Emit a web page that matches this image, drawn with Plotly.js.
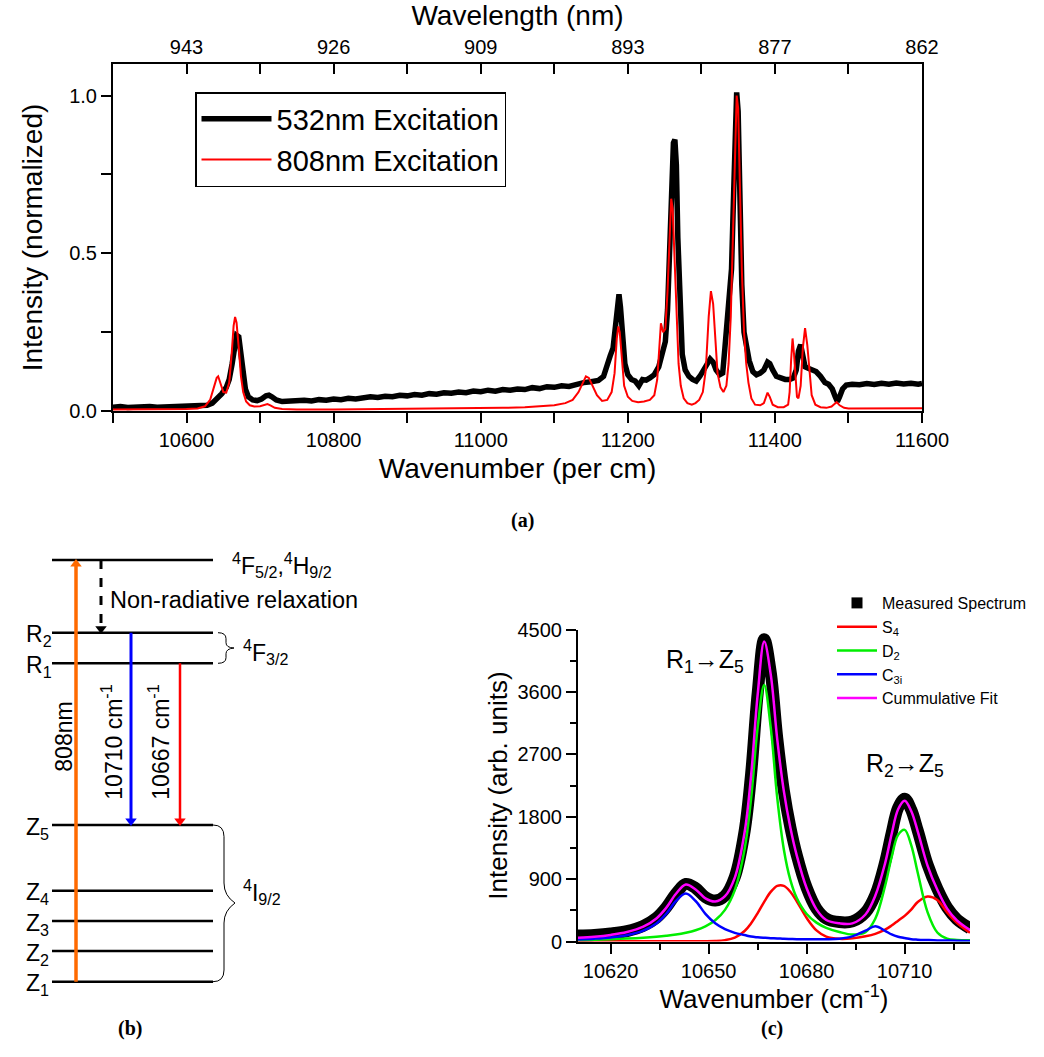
<!DOCTYPE html>
<html>
<head>
<meta charset="utf-8">
<script src="https://cdn.plot.ly/plotly-3.0.1.min.js"></script>
<style>html,body{margin:0;padding:0;background:#fff}#chart{width:1044px;height:1057px}</style>
</head>
<body>
<div id="chart"></div>
<script>
// ---------- Panel (a): normalized emission spectra ----------
const wn532 = [
 10500,10510,10520,10530,10540,10550,10560,10570,10580,10590,
 10600,10610,10620,10628,10635,10642,10648,10654,10658,10662,
 10665,10668,10671,10674,10677,10680,10684,10690,10696,10702,
 10708,10712,10716,10722,10730,10740,10750,10760,10770,10780,
 10790,10800,10810,10820,10830,10840,10850,10860,10870,10880,
 10890,10900,10910,10920,10930,10940,10950,10960,10970,10980,
 10990,11000,11010,11020,11030,11040,11050,11060,11070,11080,
 11090,11100,11110,11120,11130,11140,11150,11160,11167,11172,
 11176,11180,11183,11186,11188,11190,11193,11196,11200,11205,
 11210,11215,11220,11225,11230,11236,11242,11247,11251,11254,
 11257,11260,11262,11264,11266,11268,11271,11274,11278,11283,
 11288,11293,11298,11303,11308,11312,11316,11320,11325,11329,
 11332,11335,11338,11341,11344,11346,11348,11350,11352,11355,
 11358,11361,11365,11370,11375,11380,11385,11390,11393,11397,
 11402,11408,11414,11420,11425,11429,11432,11435,11438,11441,
 11446,11451,11456,11462,11468,11473,11478,11482,11485,11488,
 11492,11497,11505,11515,11525,11535,11545,11555,11565,11575,
 11585,11595,11600];
const int532 = [
 0.012,0.014,0.011,0.013,0.012,0.014,0.012,0.013,0.012,0.014,
 0.013,0.014,0.015,0.018,0.025,0.040,0.055,0.075,0.100,0.150,
 0.200,0.240,0.235,0.180,0.110,0.070,0.045,0.035,0.033,0.038,
 0.048,0.050,0.045,0.035,0.030,0.032,0.030,0.034,0.032,0.036,
 0.034,0.038,0.036,0.040,0.038,0.042,0.045,0.043,0.047,0.045,
 0.050,0.048,0.052,0.050,0.055,0.053,0.058,0.056,0.060,0.058,
 0.063,0.061,0.066,0.063,0.068,0.066,0.070,0.068,0.074,0.071,
 0.077,0.075,0.080,0.078,0.085,0.090,0.093,0.097,0.110,0.140,
 0.175,0.200,0.270,0.360,0.370,0.330,0.220,0.150,0.115,0.100,
 0.095,0.080,0.100,0.098,0.105,0.115,0.140,0.180,0.220,0.320,
 0.500,0.750,0.850,0.860,0.780,0.550,0.300,0.180,0.130,0.110,
 0.100,0.095,0.110,0.130,0.150,0.165,0.155,0.130,0.115,0.120,
 0.200,0.300,0.340,0.450,0.700,0.920,1.010,0.950,0.700,0.400,
 0.250,0.200,0.160,0.125,0.115,0.120,0.130,0.155,0.150,0.130,
 0.110,0.105,0.100,0.100,0.105,0.130,0.190,0.210,0.170,0.140,
 0.135,0.130,0.125,0.110,0.090,0.085,0.070,0.045,0.030,0.045,
 0.070,0.082,0.085,0.083,0.087,0.084,0.088,0.085,0.089,0.086,
 0.088,0.085,0.087];

const wn808 = [
 10500,10550,10600,10615,10625,10632,10637,10641,10643,10646,
 10650,10654,10658,10661,10664,10666,10668,10671,10674,10677,
 10681,10686,10692,10700,10706,10710,10714,10720,10730,10750,
 10800,10850,10900,10950,11000,11030,11060,11080,11100,11115,
 11125,11133,11139,11143,11147,11152,11158,11165,11172,11178,
 11182,11185,11187,11189,11192,11195,11200,11206,11214,11222,
 11230,11236,11240,11243,11245,11248,11251,11254,11257,11259,
 11261,11263,11266,11269,11272,11276,11281,11287,11292,11297,
 11302,11306,11310,11313,11316,11319,11322,11326,11330,11334,
 11337,11340,11343,11346,11348,11350,11352,11355,11358,11361,
 11364,11368,11373,11380,11385,11388,11390,11393,11397,11404,
 11412,11418,11420,11422,11424,11426,11428,11430,11432,11435,
 11438,11441,11444,11447,11450,11455,11462,11470,11477,11481,
 11484,11488,11494,11500,11550,11600];
const int808 = [
 0.005,0.005,0.006,0.008,0.015,0.035,0.070,0.105,0.110,0.090,
 0.060,0.058,0.090,0.170,0.270,0.298,0.280,0.200,0.110,0.060,
 0.030,0.018,0.014,0.015,0.020,0.022,0.018,0.010,0.006,0.005,
 0.005,0.006,0.006,0.007,0.008,0.010,0.012,0.014,0.018,0.025,
 0.035,0.060,0.090,0.110,0.105,0.080,0.050,0.032,0.035,0.060,
 0.120,0.230,0.268,0.250,0.160,0.080,0.045,0.032,0.028,0.030,
 0.035,0.050,0.100,0.200,0.278,0.250,0.260,0.380,0.560,0.673,
 0.640,0.500,0.300,0.150,0.080,0.040,0.025,0.020,0.025,0.035,
 0.060,0.130,0.300,0.380,0.340,0.220,0.120,0.075,0.060,0.080,
 0.150,0.300,0.550,0.850,1.000,0.960,0.750,0.450,0.250,0.150,
 0.090,0.040,0.020,0.018,0.025,0.050,0.058,0.045,0.020,0.012,
 0.012,0.020,0.060,0.160,0.230,0.180,0.090,0.045,0.040,0.080,
 0.200,0.263,0.210,0.120,0.050,0.020,0.012,0.010,0.014,0.022,
 0.028,0.018,0.010,0.008,0.008,0.009];

const bottomTickWavenumbers = [10600, 10800, 11000, 11200, 11400, 11600];
const topTickWavenumbers = [10600, 10800, 11000, 11200, 11400, 11600];
const topTickWavelengths = ['943', '926', '909', '893', '877', '862'];
const seriesNamesA = ['532nm Excitation', '808nm Excitation'];

// ---------- Panel (c): peak fit of R1/R2 -> Z5 ----------
const fitWavenumber = [10610,10615,10620,10625,10630,10634,10637,10640,10643,10646,
 10649,10652,10655,10658,10661,10663,10665,10667,10669,10671,
 10673,10675,10677,10680,10683,10686,10690,10694,10698,10701,
 10704,10706,10708,10710,10712,10714,10717,10720,10723,10726,10730];
const measured = [85,95,115,150,225,340,490,690,830,770,
 640,590,660,930,1590,2420,3580,4360,3880,2930,
 2180,1650,1240,775,475,330,280,290,420,670,
 1140,1560,1930,2060,1900,1600,1110,760,490,320,190];
const s4 = [2,2,2,3,3,3,4,4,4,5,
 5,8,20,56,152,263,409,572,715,801,
 802,718,577,339,160,70,38,45,75,110,
 170,230,300,370,460,570,650,600,420,270,125];
const d2 = [23,27,34,42,54,68,82,100,126,162,
 218,306,456,740,1331,2067,3089,3700,3089,2067,
 1331,889,623,396,272,197,137,100,136,329,
 803,1215,1538,1610,1389,992,424,130,41,23,19];
const c3i = [30,41,59,91,156,261,399,584,691,584,
 399,262,177,125,93,71,61,54,48,45,
 39,36,34,32,32,33,41,74,156,220,
 154,102,69,49,33,27,21,16,14,12,9];
const cumulative = [55,70,95,136,213,332,485,688,821,751,
 622,576,653,921,1576,2401,3559,4326,3852,2913,
 2172,1643,1234,767,464,310,262,262,390,659,
 1127,1547,1907,2029,1882,1589,1095,746,475,305,165];
const fitNames = ['Measured Spectrum', 'S<sub>4</sub>', 'D<sub>2</sub>', 'C<sub>3i</sub>', 'Cummulative Fit'];
const peakLabels = ['R<sub>1</sub>\u2192Z<sub>5</sub>', 'R<sub>2</sub>\u2192Z<sub>5</sub>'];
const peakLabelWavenumber = [10649, 10710];
const peakLabelIntensity = [4050, 2540];

// ---------- Panel (b): energy level scheme (schematic heights) ----------
const levelNames = ['Z1','Z2','Z3','Z4','Z5','R1','R2','F52'];
const levelEnergy = [0, 30.7, 60.7, 91, 156.7, 318.4, 349, 421.7];
const levelTexts = ['Z<sub>1</sub>','Z<sub>2</sub>','Z<sub>3</sub>','Z<sub>4</sub>','Z<sub>5</sub>','R<sub>1</sub>','R<sub>2</sub>',''];
const transFrom = ['Z1','F52','R2','R1'];
const transTo = ['F52','R2','Z5','Z5'];
const transTexts = ['808nm','Non-radiative relaxation','10710 cm<sup>-1</sup>','10667 cm<sup>-1</sup>'];
const manifoldTexts = ['<sup>4</sup>F<sub>5/2</sub>,<sup>4</sup>H<sub>9/2</sub>','<sup>4</sup>F<sub>3/2</sub>','<sup>4</sup>I<sub>9/2</sub>'];

// ================= build =================
const FONT = 'Liberation Sans, Arial, Helvetica, sans-serif';
const SERIF = 'Liberation Serif, Times New Roman, serif';
const W = 1044, H = 1057;
const px = v => v / W;
const py = v => 1 - v / H;
const E = name => levelEnergy[levelNames.indexOf(name)];

const traces = [];
// panel (a)
traces.push({x: wn532, y: int532, type: 'scatter', mode: 'lines', name: seriesNamesA[0],
  line: {color: '#000000', width: 5.5}, xaxis: 'x', yaxis: 'y', legend: 'legend', hoverinfo: 'skip'});
traces.push({x: wn808, y: int808, type: 'scatter', mode: 'lines', name: seriesNamesA[1],
  line: {color: '#ff0000', width: 2}, xaxis: 'x', yaxis: 'y', legend: 'legend', hoverinfo: 'skip'});
traces.push({x: [], y: [], type: 'scatter', mode: 'lines', xaxis: 'x2', yaxis: 'y', showlegend: false, hoverinfo: 'skip'});

// panel (c)
traces.push({x: fitWavenumber, y: measured, type: 'scatter', mode: 'lines', line: {color: '#000', width: 12, shape: 'spline'},
  xaxis: 'x3', yaxis: 'y3', showlegend: false, hoverinfo: 'skip'});
traces.push({x: [null], y: [null], type: 'scatter', mode: 'markers', name: fitNames[0],
  marker: {symbol: 'square', size: 11, color: '#000'}, xaxis: 'x3', yaxis: 'y3', legend: 'legend2', legendgroup: 'g0'});
const compColors = ['#ff0000', '#00ee00', '#0000ff', '#ff00ff'];
[s4, d2, c3i, cumulative].forEach((arr, i) => {
  traces.push({x: fitWavenumber, y: arr, type: 'scatter', mode: 'lines', name: fitNames[i + 1],
    line: {color: compColors[i], width: 2.5, shape: 'spline'}, xaxis: 'x3', yaxis: 'y3',
    legend: 'legend2', legendgroup: 'g' + (i + 1), hoverinfo: 'skip'});
});

// panel (b) levels
levelNames.forEach((n, i) => {
  traces.push({x: [52, 213], y: [levelEnergy[i], levelEnergy[i]], type: 'scatter', mode: 'lines',
    line: {color: '#000', width: 2.5}, xaxis: 'x4', yaxis: 'y4', showlegend: false, hoverinfo: 'skip'});
});
// transitions
const transX = [76, 101, 131, 180];
const transColor = ['#ff6a00', '#000000', '#0000ff', '#ff0000'];
const transDash = ['solid', 'dash', 'solid', 'solid'];
const transWidth = [3.5, 3, 3, 2.5];
transFrom.forEach((f, i) => {
  const y0 = E(f), y1 = E(transTo[i]);
  const up = y1 > y0;
  const headY = up ? y1 - 4 : y1 + 4;
  traces.push({x: [transX[i], transX[i]], y: [y0, headY], type: 'scatter', mode: 'lines',
    line: {color: transColor[i], width: transWidth[i], dash: transDash[i]}, xaxis: 'x4', yaxis: 'y4', showlegend: false, hoverinfo: 'skip'});
  traces.push({x: [transX[i]], y: [headY], type: 'scatter', mode: 'markers',
    marker: {symbol: up ? 'triangle-up' : 'triangle-down', size: 10, color: transColor[i]},
    xaxis: 'x4', yaxis: 'y4', showlegend: false, hoverinfo: 'skip'});
});

const annotations = [];
// panel labels
[['(a)', 522, 520], ['(b)', 130, 1028], ['(c)', 772, 1028]].forEach(([t, x, y]) => {
  annotations.push({text: '<b>' + t + '</b>', x: px(x), y: py(y), xref: 'paper', yref: 'paper',
    xanchor: 'center', yanchor: 'middle',
    showarrow: false, font: {family: SERIF, size: 20, color: '#000'}});
});
// panel (c) peak labels
peakLabels.forEach((t, i) => {
  annotations.push({text: t, x: peakLabelWavenumber[i], y: peakLabelIntensity[i], xref: 'x3', yref: 'y3',
    showarrow: false, font: {family: FONT, size: 25, color: '#000'}});
});
// panel (b) texts
levelTexts.forEach((t, i) => {
  if (!t) return;
  annotations.push({text: t, x: 24, y: levelEnergy[i] - 3, xref: 'x4', yref: 'y4', xanchor: 'left', yanchor: 'middle',
    showarrow: false, font: {family: FONT, size: 23, color: '#000'}});
});
annotations.push({text: transTexts[0], x: 64, y: 245, xref: 'x4', yref: 'y4', textangle: -90, showarrow: false,
  font: {family: FONT, size: 23, color: '#000'}});
annotations.push({text: transTexts[1], x: 108, y: 382, xref: 'x4', yref: 'y4', xanchor: 'left', showarrow: false,
  font: {family: FONT, size: 23.5, color: '#000'}});
annotations.push({text: transTexts[2], x: 112, y: 239, xref: 'x4', yref: 'y4', textangle: -90, showarrow: false,
  font: {family: FONT, size: 23, color: '#000'}});
annotations.push({text: transTexts[3], x: 159, y: 239, xref: 'x4', yref: 'y4', textangle: -90, showarrow: false,
  font: {family: FONT, size: 23, color: '#000'}});
annotations.push({text: manifoldTexts[0], x: 230, y: 417, xref: 'x4', yref: 'y4', xanchor: 'left', showarrow: false,
  font: {family: FONT, size: 23, color: '#000'}});
annotations.push({text: manifoldTexts[1], x: 241, y: 330, xref: 'x4', yref: 'y4', xanchor: 'left', showarrow: false,
  font: {family: FONT, size: 23, color: '#000'}});
annotations.push({text: manifoldTexts[2], x: 241, y: 90, xref: 'x4', yref: 'y4', xanchor: 'left', showarrow: false,
  font: {family: FONT, size: 23, color: '#000'}});

// braces (panel b)
const shapes = [
  {type: 'path', xref: 'x4', yref: 'y4', line: {color: '#000', width: 1},
   path: 'M 213,156.7 Q 224,156.7 224,145 L 224,98.7 Q 224,86 235,78.7 Q 224,71 224,58.7 L 224,11.7 Q 224,0 213,0'},
  {type: 'path', xref: 'x4', yref: 'y4', line: {color: '#000', width: 1},
   path: 'M 218,349 Q 226,349 226,343 L 226,339 Q 226,334 234,333.7 Q 226,333 226,328 L 226,324 Q 226,318.4 218,318.4'}
];

const axisCommon = {showline: true, linecolor: '#000', linewidth: 2, tickcolor: '#000', tickwidth: 2,
  showgrid: false, zeroline: false, ticklen: 10, exponentformat: 'none', separatethousands: false};

const layout = {
  width: W, height: H, margin: {l: 0, r: 0, t: 0, b: 0},
  paper_bgcolor: '#fff', plot_bgcolor: 'rgba(0,0,0,0)',
  font: {family: FONT, color: '#000'},
  showlegend: true,
  xaxis: Object.assign({}, axisCommon, {
    domain: [px(113), px(922)], anchor: 'y', range: [10500, 11600],
    tickmode: 'array', tickvals: bottomTickWavenumbers, tickformat: 'd', ticks: 'outside',
    minor: {tickmode: 'linear', tick0: 10500, dtick: 100, ticks: 'outside', ticklen: 10, tickwidth: 2, tickcolor: '#000'},
    tickfont: {size: 20}, title: {text: 'Wavenumber (per cm)', font: {size: 28}, standoff: 8}
  }),
  xaxis2: Object.assign({}, axisCommon, {
    overlaying: 'x', side: 'top', anchor: 'y', range: [10500, 11600],
    tickmode: 'array', tickvals: topTickWavenumbers, ticktext: topTickWavelengths, ticks: 'inside',
    minor: {tickmode: 'linear', tick0: 10500, dtick: 100, ticks: 'inside', ticklen: 10, tickwidth: 2, tickcolor: '#000'},
    tickfont: {size: 20}, title: {text: 'Wavelength (nm)', font: {size: 28}, standoff: 4}
  }),
  yaxis: Object.assign({}, axisCommon, {
    domain: [py(411), py(64)], anchor: 'x', range: [0, 1.1], mirror: true,
    tick0: 0, dtick: 0.5, tickformat: '.1f', ticks: 'outside',
    minor: {dtick: 0.25, ticks: 'outside', ticklen: 10, tickwidth: 2, tickcolor: '#000'},
    tickfont: {size: 20}, title: {text: 'Intensity (normalized)', font: {size: 28}, standoff: 18}
  }),
  xaxis3: Object.assign({}, axisCommon, {
    domain: [px(578), px(970)], anchor: 'y3', range: [10610, 10730],
    tick0: 10620, dtick: 30, tickformat: 'd', ticks: 'outside',
    minor: {tick0: 10620, dtick: 15, ticks: 'outside', ticklen: 6, tickwidth: 2, tickcolor: '#000'},
    tickfont: {size: 20}, title: {text: 'Wavenumber (cm<sup>-1</sup>)', font: {size: 26}, standoff: 4}
  }),
  yaxis3: Object.assign({}, axisCommon, {
    domain: [py(941.5), py(629.5)], anchor: 'x3', range: [0, 4500],
    tick0: 0, dtick: 900, tickformat: 'd', ticks: 'outside',
    minor: {tick0: 0, dtick: 450, ticks: 'outside', ticklen: 6, tickwidth: 2, tickcolor: '#000'},
    tickfont: {size: 20}, title: {text: 'Intensity (arb. units)', font: {size: 26}, standoff: 2}
  }),
  xaxis4: {domain: [0, px(417.6)], anchor: 'y4', range: [0, 417.6], visible: false, fixedrange: true},
  yaxis4: {domain: [py(1010), py(540)], anchor: 'x4', range: [-28.3, 441.7], visible: false, fixedrange: true},
  legend: {x: px(195), y: py(92), xanchor: 'left', yanchor: 'top', bgcolor: '#fff',
    bordercolor: '#000', borderwidth: 1.5, font: {size: 29, family: FONT, color: '#000'}, itemwidth: 70,
    tracegroupgap: 0},
  legend2: {x: px(832), y: py(586), xanchor: 'left', yanchor: 'top', bgcolor: 'rgba(0,0,0,0)',
    borderwidth: 0, font: {size: 16, family: FONT, color: '#000'}, tracegroupgap: 0, itemwidth: 40},
  annotations: annotations,
  shapes: shapes
};

Plotly.newPlot('chart', traces, layout, {staticPlot: true, displayModeBar: false});
</script>
</body>
</html>
